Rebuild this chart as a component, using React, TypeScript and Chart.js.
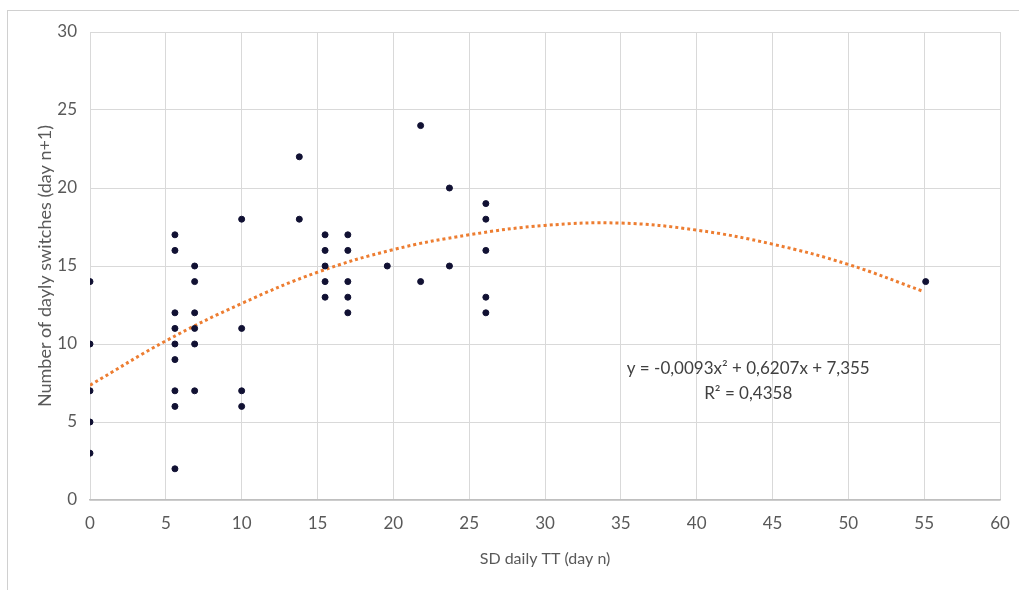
import React, { useEffect, useRef } from "react";
import { Chart, registerables } from "chart.js";

Chart.register(...registerables);

// Scatter data: SD daily TT (day n) vs number of dayly switches (day n+1)
const sdValues = [
  0, 0, 0, 0, 0,
  5.6, 5.6, 5.6, 5.6, 5.6, 5.6, 5.6, 5.6, 5.6,
  6.9, 6.9, 6.9, 6.9, 6.9, 6.9,
  10, 10, 10, 10,
  13.8, 13.8,
  15.5, 15.5, 15.5, 15.5, 15.5,
  17, 17, 17, 17, 17,
  19.6,
  21.8, 21.8,
  23.7, 23.7,
  26.1, 26.1, 26.1, 26.1, 26.1,
  55.1,
];
const switchValues = [
  14, 10, 7, 5, 3,
  17, 16, 12, 11, 10, 9, 7, 6, 2,
  15, 14, 12, 11, 10, 7,
  18, 11, 7, 6,
  22, 18,
  17, 16, 15, 14, 13,
  17, 16, 14, 13, 12,
  15,
  24, 14,
  20, 15,
  19, 18, 16, 13, 12,
  14,
];

// Polynomial trendline
const trendX = [0, 5, 10, 15, 20, 25, 30, 35, 40, 45, 50, 55];
const trendY = [7.36, 10.2, 12.6, 14.6, 16.05, 17.0, 17.6, 17.75, 17.3, 16.4, 15.1, 13.35];

const xTicks = [0, 5, 10, 15, 20, 25, 30, 35, 40, 45, 50, 55, 60];
const yTicks = [0, 5, 10, 15, 20, 25, 30];

const equationLine1 = "y = -0,0093x² + 0,6207x + 7,355";
const equationLine2 = "R² = 0,4358";

const FONT = "Lato, 'Open Sans', sans-serif";

export default function App() {
  const canvasRef = useRef<HTMLCanvasElement | null>(null);

  useEffect(() => {
    const canvas = canvasRef.current;
    if (!canvas) return;

    const equationPlugin = {
      id: "equationLabel",
      afterDatasetsDraw(chart: any) {
        const { ctx, scales } = chart;
        const cx = scales.x.getPixelForValue(43.4);
        const y1 = scales.y.getPixelForValue(8.4);
        const y2 = scales.y.getPixelForValue(6.8);
        ctx.save();
        ctx.fillStyle = "#404040";
        ctx.font = `17px ${FONT}`;
        ctx.textAlign = "center";
        ctx.textBaseline = "middle";
        ctx.fillText(equationLine1, cx, y1);
        ctx.fillText(equationLine2, cx, y2);
        ctx.restore();
      },
    };

    const chart = new Chart(canvas, {
      type: "scatter",
      data: {
        datasets: [
          {
            label: "Switches",
            data: sdValues.map((x, i) => ({ x, y: switchValues[i] })),
            backgroundColor: "#111133",
            borderColor: "#111133",
            pointRadius: 3,
            pointHoverRadius: 3,
            order: 1,
          },
          {
            type: "line",
            label: "Poly. trend",
            data: trendX.map((x, i) => ({ x, y: trendY[i] })),
            borderColor: "#ED7D31",
            borderWidth: 3,
            borderDash: [3, 3],
            pointRadius: 0,
            tension: 0.4,
            fill: false,
            order: 2,
          } as any,
        ],
      },
      options: {
        animation: false,
        responsive: false,
        maintainAspectRatio: false,
        layout: { padding: { left: 0, right: 19, top: 32, bottom: 0 } },
        plugins: {
          legend: { display: false },
          tooltip: { enabled: false },
        },
        scales: {
          x: {
            type: "linear",
            min: 0,
            max: 60,
            afterBuildTicks: (scale: any) => {
              scale.ticks = xTicks.map((v) => ({ value: v }));
            },
            afterFit: (scale: any) => {
              scale.height = 90;
              scale.paddingRight = 0;
              scale.paddingLeft = 0;
            },
            grid: { color: "#d9d9d9", lineWidth: 1, drawTicks: false },
            border: { color: "#bfbfbf", width: 1.5 },
            ticks: {
              color: "#595959",
              font: { family: FONT, size: 17 },
              padding: 13,
              maxRotation: 0,
            },
            title: {
              display: true,
              text: "SD daily TT (day n)",
              color: "#595959",
              font: { family: FONT, size: 16 },
              padding: { top: 4, bottom: 22 },
            },
          },
          y: {
            type: "linear",
            min: 0,
            max: 30,
            afterBuildTicks: (scale: any) => {
              scale.ticks = yTicks.map((v) => ({ value: v }));
            },
            afterFit: (scale: any) => {
              scale.width = 90;
            },
            grid: { color: "#d9d9d9", lineWidth: 1, drawTicks: false },
            border: { display: false },
            ticks: {
              color: "#595959",
              font: { family: FONT, size: 17 },
              padding: 13,
            },
            title: {
              display: true,
              text: "Number of dayly switches (day n+1)",
              color: "#595959",
              font: { family: FONT, size: 18 },
              padding: { top: 34, bottom: 0 },
            },
          },
        },
      },
      plugins: [equationPlugin],
    });

    return () => chart.destroy();
  }, []);

  return (
    <div style={{ position: "absolute", left: 0, top: 0, width: 1019, height: 590, background: "#fff" }}>
      <div
        style={{
          position: "absolute",
          left: 7,
          top: 10,
          width: 1012,
          height: 580,
          borderTop: "1px solid #d0d0d0",
          borderLeft: "1px solid #d0d0d0",
          boxSizing: "border-box",
        }}
      />
      <canvas
        ref={canvasRef}
        width={1019}
        height={590}
        style={{ position: "absolute", left: 0, top: 0, width: 1019, height: 590 }}
      />
    </div>
  );
}
